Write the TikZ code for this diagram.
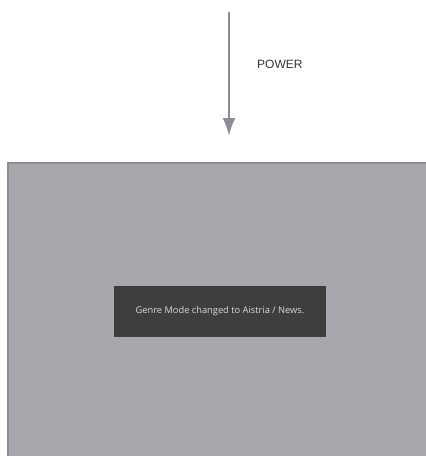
\documentclass[tikz,border=0pt]{standalone}
\usepackage{fontspec}
\setmainfont{Liberation Sans}
\newfontfamily\osdfont{Open Sans}
\usetikzlibrary{arrows.meta,positioning}
\definecolor{keygray}{HTML}{8A8D99}
\definecolor{screengray}{HTML}{A7A8AD}
\definecolor{screenedge}{HTML}{8C8D91}
\definecolor{osdgray}{HTML}{3E3E3E}
\definecolor{osdtext}{HTML}{DADADA}
\tikzset{>=latex}
\tikzset{keyarrow/.style={keygray, line width=2.5pt, -{Latex[length=18pt,width=13pt]}}}
\tikzset{osdbox/.style={fill=osdgray, text=osdtext, minimum width=212pt,
    minimum height=51pt, inner sep=0pt, font=\osdfont\fontsize{9.3}{11}\selectfont}}

\begin{document}
\begin{tikzpicture}[x=1pt,y=-1pt]
  \useasboundingbox (0,0) rectangle (426,456);
  % remote key
  \coordinate (keytop) at (229,12);
  \coordinate (keytip) at (229,136);
  \draw[keyarrow] (keytop) -- (keytip);
  \node[right, inner sep=0pt, text=black!80, font=\fontsize{12}{14}\selectfont] (key) at (257,64) {POWER};
  % tv screen
  \fill[screengray] (8,163) rectangle (426,456);
  \draw[screenedge, line width=2pt] (8,456) -- (8,163) -- (426,163);
  % message on screen
  \node[osdbox] (msg) at (220,311.5) {Genre Mode changed to Aistria / News.};
\end{tikzpicture}
\end{document}
